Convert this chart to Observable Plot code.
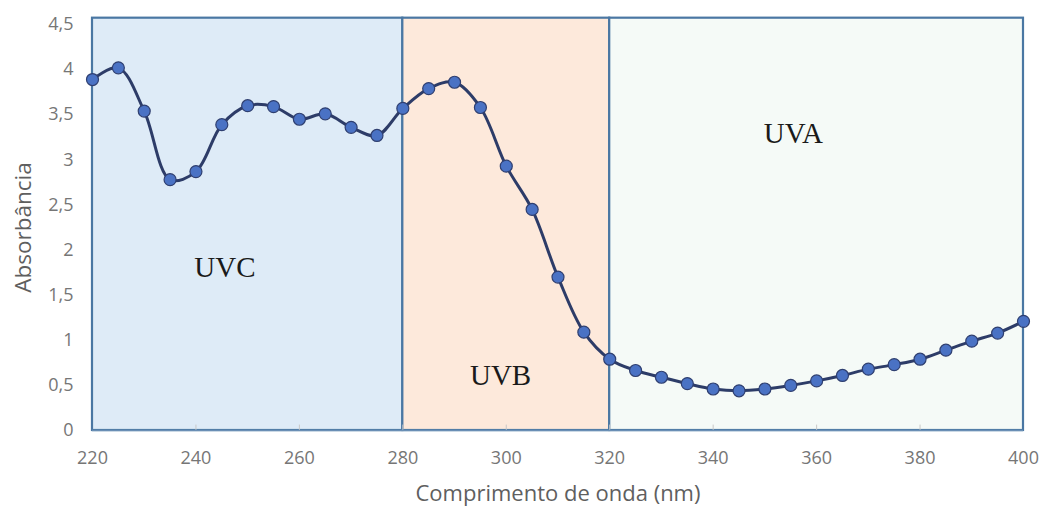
<!DOCTYPE html>
<html>
<head>
<meta charset="utf-8">
<script src="https://cdn.jsdelivr.net/npm/d3@7"></script>
<script src="https://cdn.jsdelivr.net/npm/@observablehq/plot@0.6"></script>
<style>
  html, body { margin: 0; padding: 0; background: #fff; }
</style>
</head>
<body>
<div id="chart"></div>
<script>
const wavelengths = [220,225,230,235,240,245,250,255,260,265,270,275,280,285,290,295,300,305,310,315,320,325,330,335,340,345,350,355,360,365,370,375,380,385,390,395,400];
const absorbance = [3.89,4.02,3.54,2.78,2.87,3.39,3.60,3.59,3.45,3.51,3.36,3.27,3.57,3.79,3.86,3.58,2.93,2.45,1.70,1.09,0.79,0.665,0.59,0.52,0.46,0.44,0.46,0.50,0.55,0.61,0.68,0.73,0.79,0.89,0.99,1.08,1.21];

const bandNames = ["UVC", "UVB", "UVA"];
const bandStart = [220, 280, 320];
const bandEnd = [280, 320, 400];
const bandFill = ["#deebf7", "#fde9db", "#f5faf7"];
const bandLabelX = [245.6, 298.9, 355.5];
const bandLabelY = [1.8, 0.61, 3.29];
const bandTop = 4.57;

const xTicks = [220,240,260,280,300,320,340,360,380,400];
const yTicks = [0,0.5,1,1.5,2,2.5,3,3.5,4,4.5];
const xLabel = "Comprimento de onda (nm)";
const yLabel = "Absorbância";

const data = wavelengths.map((w, i) => ({x: w, y: absorbance[i]}));
const bands = bandNames.map((n, i) => ({name: n, x1: bandStart[i], x2: bandEnd[i], fill: bandFill[i], lx: bandLabelX[i], ly: bandLabelY[i]}));

const fmt = d => String(d).replace(".", ",");

const chart = Plot.plot({
  width: 1044,
  height: 508,
  marginLeft: 92,
  marginRight: 21,
  marginTop: 24,
  marginBottom: 78,
  style: {fontFamily: "'Open Sans', 'Liberation Sans', sans-serif", fontSize: "18px", color: "#595959", background: "#fff"},
  x: {domain: [220, 400]},
  y: {domain: [0, 4.5]},
  marks: [
    Plot.rect(bands, {x1: "x1", x2: "x2", y1: 0, y2: bandTop, fill: "fill", stroke: "#4a77a3", strokeWidth: 2.2}),
    Plot.ruleX(xTicks.slice(1, -1), {x: d => d, y1: 0, y2: 0.06, stroke: "#c8c8c8"}),
    Plot.ruleY([0], {stroke: "#6a8fb5", strokeWidth: 1.5}),
    Plot.axisX({ticks: xTicks, tickSize: 0, tickPadding: 21, tickFormat: d => d, label: null, fontSize: 18, fill: "#767676"}),
    Plot.axisY({ticks: yTicks, tickSize: 0, tickPadding: 19, tickFormat: fmt, label: null, fontSize: 18, fill: "#767676"}),
    Plot.text([xLabel], {frameAnchor: "bottom", dy: 70, text: d => d, fontSize: 22, fill: "#5f5f5f"}),
    Plot.text([yLabel], {frameAnchor: "left", textAnchor: "middle", dx: -69, dy: 0, rotate: -90, text: d => d, fontSize: 22.5, fill: "#5f5f5f"}),
    Plot.line(data, {x: "x", y: "y", curve: "catmull-rom", stroke: "#2d3c68", strokeWidth: 3}),
    Plot.dot(data, {x: "x", y: "y", r: 6, fill: "#4a72c4", stroke: "#2f3f70", strokeWidth: 1.2}),
    Plot.text(bands, {x: "lx", y: "ly", text: "name", fontFamily: "'Liberation Serif', 'DejaVu Serif', serif", fontSize: 29, fill: "#1a1a1a"})
  ]
});
document.getElementById("chart").appendChild(chart);
</script>
</body>
</html>
